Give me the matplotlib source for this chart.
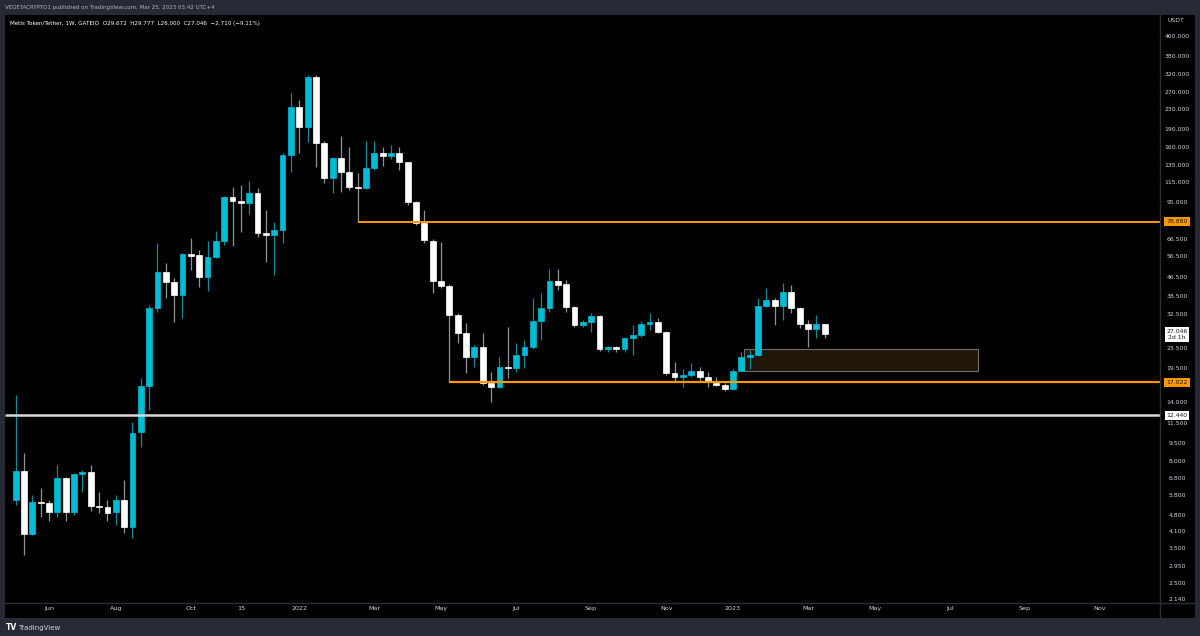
import matplotlib
matplotlib.use('Agg')
import matplotlib.pyplot as plt
import matplotlib.transforms as mtransforms
from matplotlib.patches import Rectangle
import numpy as np

# weekly candles, METIS/USDT (GATEIO), one per week, last = week of Mar 20 2023
opens = [5.55, 7.34, 4.01, 5.44, 5.39, 4.95, 6.84, 4.95, 7.11, 7.25,
         5.26, 5.19, 4.95, 5.55, 4.29, 10.6, 16.5, 34.6, 48.8, 44.4,
         39.2, 57.9, 57.4, 46.5, 56.3, 65.6, 99.7, 96.0, 94.2, 103.6,
         70.7, 69.4, 72.8, 148.9, 235.2, 194.4, 313.2, 166.9, 119.6, 144.7,
         126.6, 109.7, 108.7, 131.5, 151.7, 147.5, 151.7, 139.2, 95.1, 77.8,
         65.6, 44.8, 42.7, 32.4, 27.3, 21.7, 23.9, 16.9, 16.3, 19.7,
         19.5, 22.1, 23.9, 30.6, 34.6, 44.8, 43.5, 34.9, 29.4, 30.3,
         32.1, 23.4, 23.9, 23.4, 26.0, 26.8, 29.7, 30.3, 27.5, 18.6,
         17.9, 18.3, 19.0, 17.9, 16.9, 16.6, 16.0, 19.0, 21.7, 22.1,
         35.3, 37.4, 35.3, 40.3, 34.6, 29.7, 28.3, 29.672]
highs = [15.1, 8.68, 5.82, 6.22, 5.55, 7.75, 6.9, 7.15, 7.39, 7.75,
         5.99, 5.55, 5.82, 6.71, 11.7, 17.8, 35.6, 64.3, 53.2, 46.1,
         58.5, 67.5, 60.2, 65.6, 72.1, 100.5, 109.7, 111.8, 116.2, 108.7,
         88.1, 78.6, 151.7, 268.8, 251.5, 319.2, 319.2, 170.0, 146.0, 178.4,
         160.7, 125.4, 170.1, 170.1, 160.7, 163.8, 160.7, 139.9, 96.0, 88.1,
         66.8, 64.9, 43.5, 33.0, 30.0, 24.3, 27.3, 18.8, 21.7, 28.9,
         24.8, 25.5, 38.1, 39.9, 50.2, 50.2, 45.2, 35.2, 30.9, 33.0,
         32.4, 24.1, 24.1, 26.3, 29.4, 30.6, 33.0, 31.5, 27.7, 20.7,
         19.3, 20.5, 19.7, 18.8, 17.9, 16.9, 19.3, 22.8, 23.2, 38.1,
         41.9, 38.1, 43.9, 43.1, 34.8, 30.9, 32.4, 29.777]
lows = [5.29, 3.28, 3.97, 4.72, 4.54, 4.72, 4.54, 4.81, 5.99, 5.00,
        4.90, 4.54, 4.37, 4.05, 3.86, 9.20, 13.1, 33.3, 38.1, 30.3,
        31.5, 49.7, 42.3, 40.7, 56.0, 63.1, 62.5, 71.4, 84.8, 68.1,
        53.7, 47.4, 64.3, 126.8, 151.7, 168.5, 132.8, 114.0, 103.6, 104.6,
        106.6, 78.88, 108.0, 129.0, 134.1, 143.3, 129.0, 92.4, 76.4, 64.3,
        39.9, 42.0, 17.022, 24.8, 18.6, 19.7, 16.6, 14.1, 16.1, 17.8,
        18.8, 19.5, 23.5, 25.5, 33.3, 41.1, 33.3, 29.0, 29.0, 27.5,
        23.0, 22.8, 22.8, 22.8, 22.1, 26.3, 28.1, 27.2, 18.3, 17.1,
        16.3, 17.9, 17.1, 16.3, 16.4, 15.7, 15.9, 18.9, 19.3, 21.9,
        35.0, 29.4, 30.9, 33.0, 28.6, 23.9, 26.0, 26.000]
closes = [7.32, 4.01, 5.44, 5.37, 4.95, 6.84, 4.95, 7.11, 7.25, 5.24,
          5.19, 4.90, 5.55, 4.29, 10.5, 16.5, 34.6, 48.8, 44.4, 39.2,
          57.9, 56.8, 46.5, 56.3, 65.6, 99.7, 96.0, 94.2, 103.6, 70.7,
          69.4, 72.8, 148.9, 235.2, 194.4, 313.2, 166.9, 119.6, 144.7, 126.6,
          109.7, 108.7, 131.5, 151.7, 147.5, 151.7, 139.2, 95.1, 77.8, 66.2,
          44.8, 42.7, 32.4, 27.3, 21.7, 23.9, 16.9, 16.3, 19.7, 19.5,
          22.1, 23.9, 30.6, 34.6, 44.8, 43.1, 34.9, 29.4, 30.3, 32.1,
          23.4, 23.9, 23.4, 26.0, 26.8, 29.7, 30.3, 27.5, 18.6, 17.9,
          18.3, 19.0, 17.9, 17.3, 16.6, 16.0, 19.0, 21.7, 22.1, 35.3,
          37.4, 35.3, 40.3, 34.6, 29.7, 28.3, 29.672, 27.046]

# time axis (bar index of first weekly bar of each month)
time_ticks = [4, 12, 21, 27, 34, 43, 51, 60, 69, 78, 86, 95, 103, 112, 121, 130]
time_labels = ['Jun', 'Aug', 'Oct', '15', '2022', 'Mar', 'May', 'Jul', 'Sep',
               'Nov', '2023', 'Mar', 'May', 'Jul', 'Sep', 'Nov']

price_ticks = [460, 380, 320, 270, 230, 190, 160, 135, 115, 95, 66.5, 56.5,
               46.5, 38.5, 32.5, 23.5, 19.5, 14, 11.5, 9.5, 8, 6.8, 5.8, 4.8,
               4.1, 3.5, 2.95, 2.5, 2.14]

# drawn levels
res_level = 78.88
res_start = 41
sup_level = 17.022
sup_start = 52
low_level = 12.44
zone_lo, zone_hi = 19.0, 23.4
zone_x0, zone_x1 = 87.3, 115.4
last_close = 27.046

UP = '#00bcd4'
DOWN = '#ffffff'
ORANGE = '#ff9800'
FRAME = '#262a35'
TXT = '#d1d4dc'

W, H = 1200, 636
fig = plt.figure(figsize=(W / 100, H / 100), dpi=100, facecolor=FRAME)

def fx(px):
    return px / W

def fy(py):
    return 1 - py / H

# black chart panel incl. price / time scales
fig.patches.append(Rectangle((fx(5), fy(618)), fx(1190), 603 / H,
                             transform=fig.transFigure, fc='black', ec='none', zorder=-5))

ax = fig.add_axes([fx(5), fy(603), fx(1155), 588 / H], zorder=1)
ax.set_facecolor('black')
ax.set_yscale('log')
xmax = 137.2
ax.set_xlim(-1.28, xmax)
ax.set_ylim(2.078, 565.6)
for s in ax.spines.values():
    s.set_visible(False)
ax.yaxis.set_major_locator(matplotlib.ticker.NullLocator())
ax.yaxis.set_minor_locator(matplotlib.ticker.NullLocator())
ax.set_xticks(time_ticks)
ax.set_xticklabels(time_labels, fontsize=4.6, color=TXT)
ax.tick_params(axis='x', length=0, pad=2.5)

fig.add_artist(plt.Line2D([fx(1160), fx(1160)], [fy(15), fy(618)], color='#2a2e39', lw=1, zorder=5))
fig.add_artist(plt.Line2D([fx(5), fx(1195)], [fy(603), fy(603)], color='#2a2e39', lw=1, zorder=5))

idx = np.arange(len(opens))
o = np.array(opens)
c = np.array(closes)
hi = np.array(highs)
lo = np.array(lows)
up = c >= o
body_col = np.where(up, UP, DOWN)
wick_col = np.where(up, '#138a99', '#8f929b')

ax.vlines(idx, lo, hi, colors=wick_col, lw=0.9, zorder=2)
ax.bar(idx, np.abs(c - o), bottom=np.minimum(o, c), width=0.7,
       color=body_col, edgecolor=body_col, linewidth=0.5, zorder=3)

# levels
ax.hlines(res_level, res_start, xmax, color=ORANGE, lw=1.4, zorder=4)
ax.hlines(sup_level, sup_start, xmax, color=ORANGE, lw=1.6, zorder=4)
ax.hlines(low_level, -1.28, xmax, color='#d8d8d8', lw=1.8, zorder=4)
ax.add_patch(Rectangle((zone_x0, zone_lo), zone_x1 - zone_x0, zone_hi - zone_lo,
                       fc='#21160a', ec='#6f6f6f', lw=0.8, zorder=1))

# price scale
trans = mtransforms.blended_transform_factory(ax.transAxes, ax.transData)
xl = (1177 - 5) / 1155
for p in price_ticks:
    ax.text(xl, p, '%.3f' % p, transform=trans, ha='center', va='center',
            fontsize=4.4, color=TXT, clip_on=False)
fig.text(fx(1167), fy(20), 'USDT', fontsize=4.4, color=TXT, ha='left', va='center')

box = dict(boxstyle='square,pad=0.3', ec='none')
ax.text(xl, res_level, '78.880', transform=trans, ha='center', va='center', fontsize=4.4,
        color='#131722', bbox=dict(box, fc=ORANGE), clip_on=False, zorder=6)
ax.text(xl, sup_level, '17.022', transform=trans, ha='center', va='center', fontsize=4.4,
        color='#131722', bbox=dict(box, fc=ORANGE), clip_on=False, zorder=6)
ax.text(xl, low_level, '12.440', transform=trans, ha='center', va='center', fontsize=4.4,
        color='#131722', bbox=dict(box, fc='#ffffff'), clip_on=False, zorder=6)
ax.annotate('27.046\n2d 1h', xy=(xl, last_close), xycoords=trans, xytext=(0, 3.5),
            textcoords='offset points', ha='center', va='top',
            fontsize=4.4, color='#131722', linespacing=1.2,
            bbox=dict(boxstyle='square,pad=0.3', fc='#ffffff', ec='none'),
            annotation_clip=False, zorder=6)

# header / legend / footer
fig.text(fx(5), fy(7), 'VEGETACRYPTO1 published on TradingView.com, Mar 25, 2023 03:42 UTC+4',
         fontsize=4.0, color='#b2b5be', ha='left', va='center')
fig.text(fx(10), fy(24), 'Metis Token/Tether, 1W, GATEIO  O29.672  H29.777  L26.000  C27.046  \u22122.710 (\u22129.11%)',
         fontsize=4.1, color='#ffffff', ha='left', va='center')
fig.text(fx(6), fy(628), 'TV', fontsize=5.5, color='#ffffff', fontweight='bold', ha='left', va='center')
fig.text(fx(18), fy(628), 'TradingView', fontsize=5, color='#d1d4dc', ha='left', va='center')

fig.savefig('out.png', dpi=100, facecolor=FRAME)
